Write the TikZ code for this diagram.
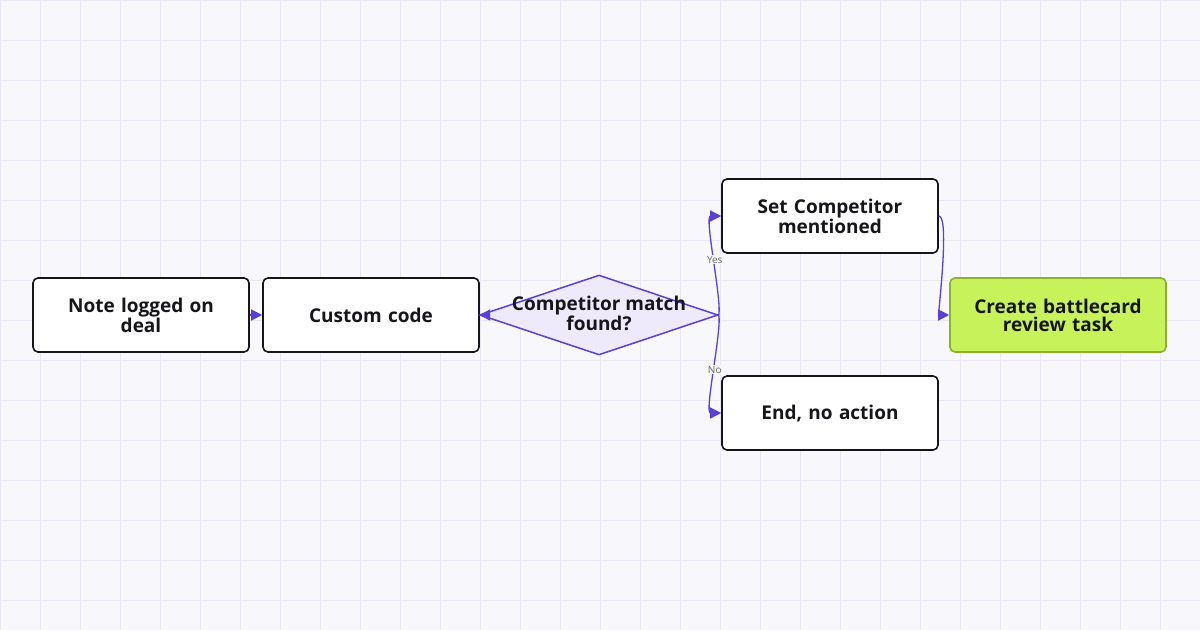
\documentclass[tikz,border=0pt]{standalone}
\usepackage{fontspec}
\setmainfont{Open Sans}
\usetikzlibrary{shapes.geometric,arrows.meta}
\definecolor{bg}{HTML}{F8F8FC}
\definecolor{grid}{HTML}{E9E7F3}
\definecolor{pur}{HTML}{5B3FD8}
\definecolor{lav}{HTML}{EEE9FB}
\definecolor{lime}{HTML}{C8F25A}
\definecolor{limeb}{HTML}{8DB22A}
\definecolor{ink}{HTML}{15151A}
\begin{document}
\begin{tikzpicture}[x=1pt,y=-1pt,
 box/.style={draw=ink,line width=1.6pt,rounded corners=5pt,fill=white,minimum width=216pt,minimum height=74pt,text width=200pt,align=center,font=\bfseries\fontsize{19}{18}\selectfont,text=ink},
 edge/.style={draw=pur,line width=1.3pt,-{Triangle[length=11pt,width=11pt]}},
 lbl/.style={font=\fontsize{10}{10}\selectfont,text=gray!80!black,fill=bg,inner sep=1pt}]
\fill[bg] (0,0) rectangle (1200,630);
\useasboundingbox (0,0) rectangle (1200,630);
\foreach \x in {0,40,...,1200} \draw[grid,line width=0.6pt] (\x,0)--(\x,630);
\foreach \y in {0,40,...,630} \draw[grid,line width=0.6pt] (0,\y)--(1200,\y);
\node[box] (a) at (141,315) {Note logged on\\deal};
\node[box] (b) at (371,315) {Custom code};
\node[diamond,draw=pur,fill=lav,line width=1.5pt,minimum width=238pt,minimum height=80pt,aspect=3,inner sep=0pt,align=center,font=\bfseries\fontsize{19}{18}\selectfont,text=ink] (c) at (599,315) {};
\node[font=\bfseries\fontsize{19}{18}\selectfont,text=ink,align=center] at (599,313) {Competitor match\\found?};
\node[box] (d) at (830,216) {Set Competitor\\mentioned};
\node[box] (e) at (830,413) {End, no action};
\node[box,fill=lime,draw=limeb] (f) at (1058,315) {Create battlecard\\review task};
\draw[edge] (a) -- (b);
\draw[edge] (b) -- (c);
\draw[edge] (c.east) .. controls (722,300) and (704,216) .. (d.west) node[lbl,pos=0.5] {Yes};
\draw[edge] (c.east) .. controls (722,330) and (704,413) .. (e.west) node[lbl,pos=0.5] {No};
\draw[edge] (d.east) .. controls (950,216) and (938,315) .. (f.west);
\end{tikzpicture}
\end{document}
